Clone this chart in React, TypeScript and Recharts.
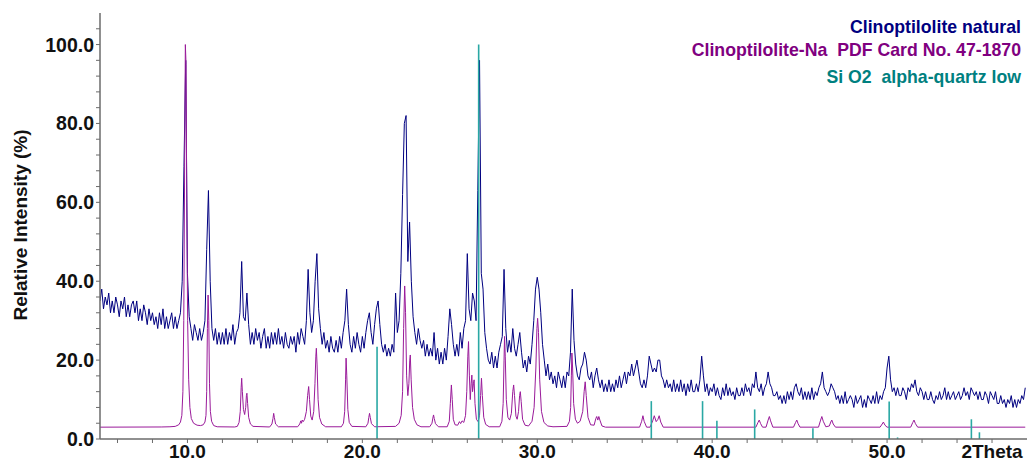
import { LineChart, Line, XAxis, YAxis, ReferenceLine } from "recharts";

const FONT = '"Liberation Sans", Arial, sans-serif';

// Measured pattern "Clinoptilolite natural", 2theta 5.0 .. 57.9, step 0.1
const blue05 = [
  35, 38, 33, 36, 34, 37, 32, 35, 32, 36,
  34, 31, 35, 33, 36, 31, 34, 31, 34, 35,
  32, 35, 30, 33, 30, 34, 32, 29, 33, 30,
  32, 29, 31, 28, 32, 29, 33, 28, 31, 28,
  30, 32, 28, 31, 28, 30, 32, 40, 69, 96,
];
const blue10 = [
  42, 31, 28, 25, 29, 27, 25, 28, 25, 27,
  30, 48, 63, 40, 28, 25, 28, 24, 27, 24,
  27, 24, 28, 24, 27, 25, 29, 24, 27, 28,
  32, 45, 31, 30, 37, 29, 24, 27, 24, 28,
  25, 27, 23, 26, 28, 23, 26, 23, 27, 24,
];
const blue15 = [
  27, 24, 28, 24, 26, 23, 27, 24, 23, 26,
  24, 26, 22, 27, 24, 28, 26, 24, 30, 43,
  32, 27, 30, 40, 47, 33, 28, 24, 27, 23,
  25, 22, 26, 23, 22, 25, 22, 26, 23, 27,
  30, 38, 29, 24, 22, 26, 23, 27, 24, 22,
];
const blue20 = [
  26, 23, 27, 30, 32, 27, 24, 29, 33, 35,
  29, 24, 22, 24, 21, 23, 21, 24, 22, 37,
  27, 30, 42, 62, 80, 82, 45, 55, 40, 31,
  27, 24, 28, 25, 23, 25, 21, 24, 21, 23,
  21, 27, 20, 23, 19, 22, 19, 23, 20, 26,
];
const blue25 = [
  33, 29, 24, 21, 24, 21, 27, 23, 28, 30,
  47, 33, 30, 37, 35, 30, 63, 96, 42, 38,
  27, 23, 20, 19, 22, 18, 21, 18, 22, 24,
  26, 43, 28, 22, 25, 22, 28, 23, 21, 24,
  27, 22, 18, 20, 17, 21, 19, 24, 30, 38,
];
const blue30 = [
  41, 38, 32, 24, 20, 16, 19, 15, 17, 14,
  16, 13, 17, 15, 13, 16, 13, 17, 16, 22,
  38, 25, 19, 16, 15, 18, 19, 22, 20, 16,
  15, 17, 13, 16, 18, 15, 13, 15, 12, 14,
  12, 15, 12, 14, 12, 15, 13, 16, 13, 15,
];
const blue35 = [
  17, 14, 17, 16, 19, 16, 18, 20, 17, 14,
  13, 15, 13, 16, 21, 19, 17, 18, 17, 20,
  20, 16, 15, 13, 15, 13, 14, 12, 15, 12,
  14, 12, 15, 12, 14, 11, 14, 12, 15, 12,
  12, 14, 12, 15, 21, 16, 12, 14, 11, 13,
];
const blue40 = [
  12, 14, 11, 13, 11, 10, 13, 11, 14, 11,
  13, 11, 12, 10, 13, 11, 11, 13, 11, 14,
  12, 13, 11, 14, 13, 17, 13, 12, 14, 11,
  13, 14, 17, 14, 13, 11, 11, 12, 10, 11,
  9, 11, 9, 12, 10, 12, 10, 13, 14, 12,
];
const blue45 = [
  11, 13, 10, 12, 10, 12, 10, 13, 10, 12,
  11, 13, 14, 17, 13, 12, 11, 12, 14, 13,
  12, 10, 11, 9, 11, 9, 12, 9, 10, 11,
  10, 8, 11, 9, 10, 11, 8, 10, 8, 11,
  10, 9, 11, 9, 12, 9, 11, 10, 12, 13,
];
const blue50 = [
  18, 21, 15, 12, 13, 11, 13, 11, 11, 13,
  12, 10, 13, 12, 14, 13, 15, 12, 11, 13,
  12, 10, 12, 10, 10, 12, 10, 9, 11, 10,
  12, 10, 11, 13, 10, 12, 10, 11, 12, 10,
  11, 12, 10, 11, 13, 11, 12, 10, 13, 12,
];
const blue55 = [
  11, 12, 10, 12, 10, 10, 12, 11, 9, 12,
  11, 10, 12, 9, 9, 11, 9, 10, 8, 10,
  9, 11, 8, 10, 8, 10, 9, 11, 10, 13,
];

const measured = [
  ...blue05, ...blue10, ...blue15, ...blue20, ...blue25,
  ...blue30, ...blue35, ...blue40, ...blue45, ...blue50, ...blue55,
];

// PDF card 47-1870 (Clinoptilolite-Na), profile points [2theta, intensity]
const cardPattern: [number, number][] = [
  [5.0, 3.0], [8.5, 3.05], [9.0, 3.1], [9.3, 3.2], [9.5, 3.6], [9.6, 4.3], [9.68, 6], [9.74, 12],
  [9.79, 30], [9.84, 70], [9.88, 100], [9.92, 95], [9.96, 60], [10.01, 30], [10.07, 15],
  [10.14, 8], [10.22, 5.2], [10.35, 4.0], [10.55, 3.5], [10.75, 3.4], [10.9, 3.6], [11.0, 4.3],
  [11.06, 6], [11.1, 12], [11.14, 28], [11.18, 36.5], [11.22, 30], [11.26, 14], [11.31, 7],
  [11.38, 4.5], [11.5, 3.4], [11.7, 3.1], [12.7, 3.05], [12.85, 3.2], [12.95, 4.2], [13.02, 7],
  [13.07, 13], [13.1, 15.4], [13.14, 12], [13.2, 7.5], [13.27, 6.2], [13.33, 8], [13.37, 11],
  [13.4, 11.6], [13.44, 9], [13.5, 5.5], [13.6, 3.8], [13.75, 3.2], [14.7, 3.05], [14.83, 3.8],
  [14.89, 5.2], [14.93, 6.5], [14.97, 5.4], [15.04, 3.8], [15.2, 3.1], [16.3, 3.1], [16.42, 3.8],
  [16.48, 4.6], [16.52, 4.0], [16.56, 4.8], [16.62, 4.4], [16.7, 5], [16.8, 7], [16.87, 11],
  [16.93, 13.3], [16.98, 10], [17.05, 5.8], [17.13, 4.8], [17.22, 7], [17.29, 14], [17.34, 21],
  [17.37, 23], [17.41, 19], [17.47, 10], [17.55, 5.5], [17.68, 3.8], [17.9, 3.1], [18.8, 3.1],
  [18.92, 4], [18.99, 7], [19.04, 15], [19.07, 20.5], [19.11, 16], [19.17, 7.5], [19.25, 4.2],
  [19.4, 3.2], [20.2, 3.1], [20.32, 4], [20.37, 5.5], [20.41, 6.5], [20.45, 5.5], [20.52, 3.9],
  [20.7, 3.1], [21.9, 3.2], [22.1, 4.0], [22.22, 6], [22.3, 12], [22.36, 28], [22.42, 38.8],
  [22.47, 32], [22.53, 16], [22.6, 11], [22.66, 14], [22.71, 20], [22.74, 21.3], [22.79, 15],
  [22.87, 8], [22.97, 5], [23.12, 3.6], [23.35, 3.1], [23.85, 3.1], [23.98, 4.0], [24.03, 5.3],
  [24.07, 6.1], [24.11, 5.2], [24.18, 3.9], [24.35, 3.1], [24.85, 3.1], [24.97, 4.5], [25.03, 9],
  [25.09, 13.7], [25.14, 10], [25.2, 5], [25.3, 3.6], [25.45, 3.5], [25.55, 4.4], [25.62, 3.9],
  [25.7, 4.6], [25.8, 4.2], [25.9, 6], [25.97, 12], [26.03, 21], [26.07, 24.7], [26.12, 16],
  [26.17, 10], [26.22, 14], [26.26, 16.2], [26.3, 12], [26.35, 14], [26.39, 15], [26.44, 9],
  [26.52, 5], [26.62, 4.4], [26.7, 6], [26.76, 11], [26.81, 15.4], [26.86, 11], [26.94, 5.5],
  [27.05, 3.7], [27.25, 3.1], [27.85, 3.1], [27.98, 4.5], [28.05, 9], [28.1, 20], [28.13, 26],
  [28.17, 21], [28.23, 10], [28.32, 5.5], [28.42, 4.8], [28.52, 6.5], [28.6, 12], [28.65, 13.7],
  [28.7, 11], [28.78, 5.8], [28.85, 5], [28.93, 7], [28.99, 11], [29.03, 12], [29.08, 9.5],
  [29.16, 5], [29.3, 3.5], [29.5, 3.3], [29.7, 4.5], [29.82, 8], [29.92, 18], [29.98, 28],
  [30.02, 30.6], [30.07, 27], [30.14, 15], [30.24, 7], [30.38, 4.2], [30.6, 3.3], [30.9, 3.1],
  [31.7, 3.2], [31.84, 4.5], [31.91, 8], [31.95, 16], [31.98, 21.8], [32.02, 18], [32.08, 9],
  [32.18, 5], [32.3, 4], [32.45, 4.5], [32.6, 7], [32.68, 12], [32.74, 14.5], [32.8, 11],
  [32.9, 5.5], [33.05, 3.6], [33.25, 3.5], [33.35, 5.2], [33.4, 5.7], [33.46, 4.8], [33.52, 5.7],
  [33.58, 4.8], [33.7, 3.3], [33.9, 3.0], [35.85, 3.0], [35.97, 4.5], [36.04, 5.9], [36.11, 4.5],
  [36.25, 3.0], [36.45, 3.0], [36.6, 4.6], [36.69, 5.9], [36.8, 4.4], [36.9, 5.0], [36.97, 5.9],
  [37.06, 4.3], [37.2, 3.0], [42.5, 3.0], [42.62, 4.2], [42.69, 4.8], [42.77, 3.9], [42.88, 3.0],
  [43.08, 3.0], [43.2, 4.8], [43.27, 5.7], [43.34, 4.6], [43.47, 3.0], [44.65, 3.0], [44.77, 4.2],
  [44.84, 4.8], [44.91, 3.9], [45.02, 3.0], [46.08, 3.0], [46.2, 4.8], [46.27, 5.7], [46.35, 4.5],
  [46.5, 3.1], [46.7, 3.3], [46.78, 4.3], [46.84, 4.8], [46.92, 3.8], [47.05, 3.0], [49.6, 3.0],
  [49.72, 3.8], [49.79, 4.3], [49.88, 3.5], [50.0, 3.0], [51.35, 3.0], [51.47, 4.2], [51.54, 4.8],
  [51.62, 3.9], [51.75, 3.0], [57.9, 3.0],
];

// Si O2 alpha-quartz low, stick pattern
const quartzPos = [20.84, 26.65, 36.52, 39.45, 40.27, 42.43, 45.76, 50.12, 50.6, 54.82, 55.28];
const quartzInt = [23.4, 100, 9.6, 9.6, 4.6, 7.5, 2.7, 9.5, 0.4, 5.0, 1.7];

const xTicks = [6, 8, 10, 12, 14, 16, 18, 20, 22, 24, 26, 28, 30, 32, 34, 36, 38, 40, 42, 44, 46, 48, 50, 52, 54, 56];
const yTicks = [0, 4, 8, 12, 16, 20, 24, 28, 32, 36, 40, 44, 48, 52, 56, 60, 64, 68, 72, 76, 80, 84, 88, 92, 96, 100, 104];

const measuredData = measured.map((y, i) => ({ x: Number((5 + i * 0.1).toFixed(1)), y }));
const cardData = cardPattern.map(([x, y]) => ({ x, y }));

const AXIS = "#6b6b6b";

function XTick(props: any) {
  const { x, y, payload } = props;
  const v = payload.value;
  let label = "";
  if (v === 56) label = "2Theta";
  else if (v % 10 === 0) label = v.toFixed(1);
  if (!label) return <g />;
  return (
    <text x={x} y={y} dy="0.71em" textAnchor="middle" fontFamily={FONT} fontWeight="bold" fontSize={19} fill="#111">
      {label}
    </text>
  );
}

function YTick(props: any) {
  const { x, y, payload } = props;
  const v = payload.value;
  if (v % 20 !== 0) return <g />;
  return (
    <text x={x} y={y} dy="0.36em" textAnchor="end" fontFamily={FONT} fontWeight="bold" fontSize={19.5} fill="#111">
      {v.toFixed(1)}
    </text>
  );
}

export default function App() {
  return (
    <div style={{ position: "relative", width: 1027, height: 461, fontFamily: FONT }}>
      <style>{"body{margin:0}"}</style>
      <LineChart width={1027} height={461} margin={{ top: 13, right: 0, bottom: 0, left: 0 }}>
        <XAxis
          type="number"
          dataKey="x"
          domain={[5, 58]}
          ticks={xTicks}
          interval={0}
          tick={<XTick />}
          tickSize={4}
          tickMargin={2}
          height={22}
          axisLine={{ stroke: AXIS, strokeWidth: 1.5 }}
          tickLine={{ stroke: AXIS }}
          allowDataOverflow
        />
        <YAxis
          type="number"
          domain={[0, 108]}
          ticks={yTicks}
          interval={0}
          tick={<YTick />}
          tickSize={4}
          tickMargin={2}
          width={100}
          axisLine={{ stroke: AXIS, strokeWidth: 1.5 }}
          tickLine={{ stroke: AXIS }}
          allowDataOverflow
        />
        <Line
          data={measuredData}
          dataKey="y"
          type="linear"
          stroke="#000080"
          strokeWidth={1}
          dot={false}
          isAnimationActive={false}
        />
        <Line
          data={cardData}
          dataKey="y"
          type="linear"
          stroke="#9a1a9a"
          strokeWidth={1}
          dot={false}
          isAnimationActive={false}
        />
        {quartzPos.map((pos, i) => (
          <ReferenceLine
            key={pos}
            segment={[{ x: pos, y: 0 }, { x: pos, y: quartzInt[i] }]}
            stroke="#2aa8a4"
            strokeWidth={1.6}
          />
        ))}
      </LineChart>
      <svg
        width={1027}
        height={461}
        style={{ position: "absolute", left: 0, top: 0, pointerEvents: "none" }}
      >
        <text
          x={26.5}
          y={225}
          transform="rotate(-90 26.5 225)"
          textAnchor="middle"
          fontFamily={FONT}
          fontWeight="bold"
          fontSize={19}
          fill="#111"
        >
          Relative Intensity (%)
        </text>
        <g fontFamily={FONT} fontWeight="bold" fontSize={17.7} textAnchor="end">
          <text x={1021} y={33} fill="#000080">Clinoptilolite natural</text>
          <text x={1021} y={56} fill="#800080">{"Clinoptilolite-Na\u00a0 PDF Card No. 47-1870"}</text>
          <text x={1021} y={83} fill="#008080">{"Si O2\u00a0 alpha-quartz low"}</text>
        </g>
      </svg>
    </div>
  );
}
